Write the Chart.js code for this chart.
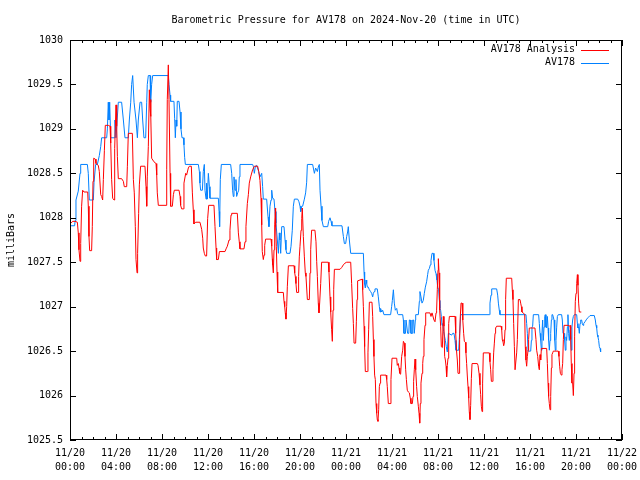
<!DOCTYPE html>
<html>
<head>
<meta charset="utf-8">
<script src="https://cdn.jsdelivr.net/npm/chart.js@4.4.1/dist/chart.umd.min.js"></script>
<style>
  html, body { margin: 0; padding: 0; background: #fff; }
  #wrap { width: 640px; height: 480px; }
</style>
</head>
<body>
<div id="wrap"><canvas id="myChart" width="640" height="480"></canvas></div>
<script>
// hours since 2024-11-20 00:00 UTC
const analysisHours = [
  0.09, 0.23, 0.43, 0.64, 0.72, 0.78, 0.87, 0.93, 1.01, 1.10, 1.22, 1.54, 1.59, 1.65, 1.71, 1.88, 1.94, 2.00, 2.06, 2.20,
  2.26, 2.46, 2.55, 2.67, 2.75, 2.84, 2.90, 2.99, 3.07, 3.33, 3.48, 3.54, 3.62, 3.71, 3.83, 3.86, 3.91, 4.00, 4.06, 4.12,
  4.20, 4.49, 4.64, 4.72, 4.93, 4.99, 5.07, 5.42, 5.51, 5.59, 5.68, 5.74, 5.83, 5.88, 5.97, 6.03, 6.14, 6.52, 6.61, 6.67,
  6.72, 6.81, 6.90, 6.96, 7.01, 7.04, 7.10, 7.30, 7.48, 7.54, 7.59, 7.68, 8.35, 8.41, 8.46, 8.52, 8.55, 8.61, 8.70, 8.75,
  8.90, 8.99, 9.07, 9.48, 9.57, 9.62, 9.71, 9.86, 9.91, 10.06, 10.14, 10.29, 10.38, 10.55, 10.64, 10.72, 10.78, 10.93, 11.30, 11.45,
  11.54, 11.59, 11.68, 11.77, 11.88, 11.97, 12.06, 12.52, 12.61, 12.70, 12.75, 12.90, 12.99, 13.48, 13.57, 13.68, 13.83, 13.91, 14.00, 14.06,
  14.55, 14.64, 14.72, 14.78, 15.13, 15.22, 15.30, 15.42, 15.51, 15.59, 15.71, 15.88, 16.03, 16.32, 16.41, 16.52, 16.61, 16.67, 16.72, 16.81,
  16.87, 16.93, 17.01, 17.48, 17.54, 17.59, 17.62, 17.68, 17.74, 17.80, 17.86, 17.88, 17.94, 18.00, 18.06, 18.55, 18.61, 18.67, 18.72, 18.78,
  18.84, 18.90, 18.99, 19.48, 19.54, 19.59, 19.65, 19.71, 19.83, 19.88, 19.94, 20.00, 20.09, 20.15, 20.20, 20.29, 20.38, 20.46, 20.52, 20.64,
  20.81, 20.87, 20.93, 21.01, 21.30, 21.39, 21.45, 21.51, 21.59, 21.65, 21.71, 21.80, 21.88, 22.46, 22.52, 22.61, 22.67, 22.75, 22.81, 22.87,
  22.93, 22.99, 23.48, 23.62, 23.77, 23.91, 24.06, 24.41, 24.49, 24.58, 24.64, 24.70, 24.84, 24.90, 24.96, 25.01, 25.42, 25.45, 25.51, 25.57,
  25.62, 25.68, 25.86, 25.91, 25.97, 26.03, 26.26, 26.32, 26.38, 26.43, 26.49, 26.55, 26.61, 26.67, 26.72, 26.78, 26.84, 26.90, 26.96, 27.01,
  27.48, 27.54, 27.59, 27.68, 27.83, 27.91, 28.00, 28.41, 28.46, 28.55, 28.61, 28.67, 28.75, 28.84, 28.93, 28.99, 29.07, 29.13, 29.19, 29.25,
  29.33, 29.42, 29.51, 29.59, 29.65, 29.77, 29.83, 29.88, 29.94, 30.00, 30.06, 30.14, 30.20, 30.29, 30.35, 30.41, 30.46, 30.52, 30.61, 30.67,
  30.72, 30.78, 30.87, 30.93, 31.30, 31.39, 31.48, 31.54, 31.65, 31.74, 31.83, 31.88, 31.94, 32.00, 32.03, 32.09, 32.12, 32.17, 32.23, 32.29,
  32.38, 32.46, 32.52, 32.58, 32.64, 32.70, 32.75, 32.81, 32.87, 32.93, 32.99, 33.48, 33.54, 33.62, 33.68, 33.74, 33.83, 33.88, 33.94, 34.00,
  34.09, 34.14, 34.17, 34.23, 34.29, 34.38, 34.43, 34.49, 34.55, 34.61, 34.67, 34.72, 34.78, 34.84, 34.90, 34.96, 35.42, 35.48, 35.57, 35.65,
  35.71, 35.77, 35.83, 35.88, 35.94, 36.46, 36.52, 36.58, 36.64, 36.72, 36.78, 36.84, 36.90, 36.96, 37.01, 37.10, 37.48, 37.54, 37.59, 37.65,
  37.71, 37.77, 37.83, 37.88, 37.94, 38.41, 38.46, 38.52, 38.58, 38.64, 38.70, 38.78, 38.84, 38.90, 38.99, 39.13, 39.19, 39.25, 39.30, 39.42,
  39.54, 39.59, 39.65, 39.71, 39.77, 39.83, 39.88, 39.94, 40.43, 40.52, 40.58, 40.67, 40.75, 40.81, 40.87, 40.93, 40.99, 41.45, 41.51, 41.57,
  41.62, 41.68, 41.74, 41.80, 41.86, 41.91, 41.97, 42.03, 42.46, 42.52, 42.58, 42.64, 42.73, 42.78, 42.84, 42.90, 42.96, 43.33, 43.42, 43.48,
  43.54, 43.59, 43.65, 43.71, 43.77, 43.83, 43.88, 43.94, 44.00, 44.06, 44.12, 44.17, 44.23, 44.29, 44.46
];
const analysisMb = [
  1027.94, 1027.96, 1027.96, 1027.95, 1027.83, 1027.64, 1027.51, 1027.71, 1028.13, 1028.31, 1028.29, 1028.29, 1028.13, 1027.79, 1027.63, 1027.63, 1027.90, 1028.41, 1028.67, 1028.66,
  1028.61, 1028.59, 1028.52, 1028.26, 1028.24, 1028.20, 1028.43, 1028.76, 1029.04, 1029.04, 1029.03, 1028.84, 1028.43, 1028.22, 1028.20, 1028.43, 1028.78, 1029.27, 1029.03, 1028.69,
  1028.44, 1028.44, 1028.41, 1028.35, 1028.35, 1028.58, 1028.95, 1028.95, 1028.43, 1028.28, 1027.90, 1027.53, 1027.38, 1027.60, 1028.05, 1028.37, 1028.58, 1028.58, 1028.35, 1028.13,
  1028.46, 1028.80, 1029.44, 1029.23, 1029.33, 1029.14, 1028.67, 1028.63, 1028.61, 1028.48, 1028.28, 1028.14, 1028.14, 1028.54, 1029.33, 1029.33, 1029.72, 1029.33, 1028.50, 1028.13,
  1028.13, 1028.26, 1028.31, 1028.31, 1028.24, 1028.14, 1028.10, 1028.10, 1028.39, 1028.50, 1028.48, 1028.56, 1028.58, 1028.58, 1028.28, 1028.09, 1027.93, 1027.95, 1027.95, 1027.87,
  1027.77, 1027.66, 1027.60, 1027.57, 1027.57, 1027.99, 1028.14, 1028.14, 1027.90, 1027.66, 1027.53, 1027.53, 1027.62, 1027.62, 1027.65, 1027.68, 1027.75, 1027.86, 1028.03, 1028.05,
  1028.05, 1027.83, 1027.73, 1027.65, 1027.65, 1027.73, 1027.90, 1028.16, 1028.26, 1028.39, 1028.46, 1028.54, 1028.58, 1028.58, 1028.52, 1028.42, 1028.22, 1027.92, 1027.62, 1027.53,
  1027.58, 1027.69, 1027.76, 1027.76, 1027.68, 1027.54, 1027.47, 1027.38, 1027.64, 1027.92, 1028.11, 1027.90, 1027.68, 1027.39, 1027.16, 1027.16, 1027.06, 1027.00, 1026.93, 1026.86,
  1027.00, 1027.23, 1027.46, 1027.46, 1027.38, 1027.34, 1027.26, 1027.16, 1027.16, 1027.34, 1027.56, 1027.68, 1027.86, 1027.99, 1028.11, 1027.79, 1027.56, 1027.38, 1027.34, 1027.08,
  1027.08, 1027.38, 1027.64, 1027.86, 1027.86, 1027.73, 1027.51, 1027.34, 1027.04, 1026.93, 1027.04, 1027.26, 1027.50, 1027.50, 1027.39, 1027.11, 1026.94, 1026.74, 1026.61, 1026.96,
  1027.19, 1027.42, 1027.42, 1027.44, 1027.47, 1027.49, 1027.50, 1027.50, 1027.26, 1026.98, 1026.81, 1026.59, 1026.59, 1026.83, 1027.08, 1027.29, 1027.31, 1027.19, 1027.00, 1026.78,
  1026.55, 1026.27, 1026.27, 1026.48, 1026.74, 1027.05, 1027.05, 1026.89, 1026.63, 1026.44, 1026.23, 1026.18, 1025.91, 1025.80, 1025.73, 1025.71, 1025.84, 1026.10, 1026.14, 1026.23,
  1026.23, 1026.18, 1026.10, 1025.91, 1025.91, 1026.18, 1026.42, 1026.42, 1026.34, 1026.36, 1026.31, 1026.25, 1026.24, 1026.44, 1026.51, 1026.61, 1026.59, 1026.44, 1026.29, 1026.18,
  1026.06, 1026.04, 1026.03, 1025.97, 1025.91, 1025.91, 1025.99, 1026.16, 1026.29, 1026.41, 1026.29, 1026.10, 1025.99, 1025.88, 1025.80, 1025.69, 1025.91, 1026.14, 1026.25, 1026.36,
  1026.44, 1026.63, 1026.79, 1026.93, 1026.93, 1026.89, 1026.93, 1026.93, 1026.85, 1026.83, 1026.93, 1026.96, 1027.19, 1027.41, 1027.54, 1027.38, 1027.23, 1026.96, 1026.78, 1026.55,
  1026.54, 1026.89, 1026.78, 1026.44, 1026.40, 1026.33, 1026.21, 1026.34, 1026.42, 1026.81, 1026.89, 1026.89, 1026.70, 1026.49, 1026.40, 1026.25, 1026.25, 1026.63, 1026.89, 1027.04,
  1027.04, 1026.94, 1026.85, 1026.70, 1026.61, 1026.60, 1026.48, 1026.36, 1026.22, 1026.10, 1025.97, 1025.82, 1025.73, 1025.89, 1026.19, 1026.36, 1026.36, 1026.34, 1026.25, 1026.12,
  1026.01, 1025.88, 1025.82, 1026.14, 1026.48, 1026.48, 1026.38, 1026.29, 1026.16, 1026.16, 1026.29, 1026.48, 1026.59, 1026.70, 1026.76, 1026.78, 1026.78, 1026.74, 1026.63, 1026.61,
  1026.56, 1026.59, 1026.74, 1027.08, 1027.32, 1027.32, 1027.19, 1027.08, 1026.81, 1026.55, 1026.29, 1026.29, 1026.48, 1026.63, 1027.08, 1027.08, 1027.04, 1027.00, 1026.94, 1026.93,
  1026.91, 1026.55, 1026.40, 1026.33, 1026.44, 1026.51, 1026.63, 1026.76, 1026.76, 1026.63, 1026.51, 1026.44, 1026.33, 1026.29, 1026.46, 1026.40, 1026.53, 1026.53, 1026.36, 1026.14,
  1025.99, 1025.91, 1025.84, 1025.99, 1026.31, 1026.46, 1026.48, 1026.50, 1026.50, 1026.44, 1026.33, 1026.25, 1026.23, 1026.29, 1026.36, 1026.63, 1026.79, 1026.79, 1026.78, 1026.79,
  1026.63, 1026.36, 1026.14, 1026.14, 1026.00, 1026.25, 1026.66, 1027.06, 1027.15, 1027.26, 1027.36, 1027.24, 1027.04, 1026.94, 1026.94
];

const stationHours = [
  0.05, 0.40, 0.45, 0.52, 0.72, 0.87, 0.93, 1.51, 1.59, 1.68, 2.03, 2.09, 2.23, 2.38, 2.55, 2.67, 2.75, 3.19, 3.25, 3.33,
  3.39, 3.45, 3.54, 3.83, 3.91, 4.00, 4.20, 4.49, 4.64, 4.78, 5.07, 5.16, 5.28, 5.36, 5.45, 5.57, 5.74, 5.86, 5.94, 6.09,
  6.23, 6.32, 6.43, 6.58, 6.67, 6.72, 6.81, 6.96, 7.01, 7.10, 7.19, 8.55, 8.61, 8.70, 8.75, 9.04, 9.10, 9.16, 9.22, 9.28,
  9.33, 9.48, 9.57, 9.65, 9.74, 9.86, 9.91, 9.97, 10.03, 11.16, 11.25, 11.30, 11.36, 11.51, 11.59, 11.68, 11.74, 11.83, 11.88, 11.94,
  12.03, 12.12, 12.17, 12.90, 12.96, 13.01, 13.07, 13.16, 13.97, 14.06, 14.14, 14.20, 14.26, 14.35, 14.43, 14.49, 14.58, 14.67, 14.72, 14.78,
  15.88, 15.94, 16.03, 16.12, 16.23, 16.41, 16.52, 16.67, 16.75, 16.81, 17.10, 17.22, 17.30, 17.39, 17.48, 17.54, 17.62, 17.74, 17.83, 17.91,
  18.03, 18.12, 18.20, 18.26, 18.32, 18.41, 18.61, 18.70, 18.78, 18.84, 19.13, 19.22, 19.33, 19.42, 19.51, 19.80, 19.91, 20.00, 20.06, 20.15,
  20.23, 20.38, 20.49, 20.58, 20.64, 21.10, 21.25, 21.36, 21.51, 21.59, 21.68, 21.74, 21.83, 21.91, 22.03, 22.41, 22.49, 22.61, 22.70, 22.78,
  23.65, 23.77, 23.86, 23.97, 24.06, 24.14, 24.20, 24.29, 24.41, 25.51, 25.57, 25.62, 25.68, 25.74, 25.80, 25.86, 25.94, 26.03, 26.14, 26.23,
  26.32, 26.38, 26.46, 26.52, 26.72, 26.81, 26.90, 26.96, 27.01, 27.10, 27.19, 27.30, 27.88, 27.97, 28.03, 28.12, 28.20, 28.29, 28.41, 28.49,
  28.55, 28.93, 28.99, 29.04, 29.17, 29.22, 29.30, 29.36, 29.46, 29.51, 29.59, 29.65, 29.75, 29.80, 29.88, 29.94, 29.98, 30.03, 30.06, 30.29,
  30.38, 30.43, 30.52, 30.61, 30.72, 30.81, 30.90, 31.01, 31.10, 31.16, 31.25, 31.33, 31.39, 31.48, 31.59, 31.65, 31.74, 31.83, 31.91, 31.97,
  32.06, 32.12, 32.17, 32.23, 32.29, 32.35, 32.41, 32.49, 32.58, 32.64, 32.72, 32.81, 32.90, 33.19, 33.28, 33.39, 33.48, 33.56, 33.80, 33.88,
  33.97, 36.46, 36.52, 36.61, 36.67, 37.10, 37.19, 37.25, 37.33, 37.39, 39.65, 39.71, 39.77, 39.83, 40.06, 40.12, 40.17, 40.23, 40.29, 40.75,
  40.81, 40.87, 40.93, 40.99, 41.04, 41.10, 41.16, 41.22, 41.28, 41.33, 41.39, 41.45, 41.51, 41.57, 41.62, 41.68, 41.74, 41.80, 41.86, 41.91,
  41.97, 42.09, 42.15, 42.20, 42.26, 42.32, 42.38, 42.46, 42.75, 42.81, 42.87, 42.96, 43.01, 43.07, 43.13, 43.19, 43.25, 43.30, 43.36, 43.42,
  43.48, 43.54, 43.59, 43.65, 43.71, 43.77, 43.86, 44.06, 44.12, 44.17, 44.23, 44.29, 44.35, 44.41, 44.49, 44.55, 44.61, 44.67, 44.78, 44.93,
  45.07, 45.22, 45.59, 45.68, 45.74, 45.80, 45.86, 45.91, 45.97, 46.03, 46.09, 46.14
];
const stationMb = [
  1027.91, 1027.91, 1027.97, 1028.20, 1028.30, 1028.50, 1028.60, 1028.60, 1028.50, 1028.20, 1028.20, 1028.40, 1028.60, 1028.60, 1028.70, 1028.80, 1028.90, 1028.90, 1029.00, 1029.30,
  1029.10, 1029.30, 1028.90, 1028.90, 1029.10, 1028.90, 1029.30, 1029.30, 1029.10, 1028.90, 1028.90, 1029.10, 1029.30, 1029.50, 1029.60, 1029.30, 1029.10, 1028.90, 1029.10, 1029.30,
  1029.30, 1029.10, 1028.90, 1028.90, 1029.30, 1029.50, 1029.60, 1029.60, 1029.30, 1029.50, 1029.60, 1029.60, 1029.50, 1029.38, 1029.31, 1029.31, 1029.12, 1028.90, 1029.10, 1029.03,
  1029.31, 1029.31, 1029.19, 1029.00, 1028.90, 1028.90, 1028.82, 1028.68, 1028.60, 1028.60, 1028.52, 1028.39, 1028.31, 1028.31, 1028.52, 1028.60, 1028.31, 1028.21, 1028.39, 1028.21,
  1028.50, 1028.35, 1028.22, 1028.22, 1028.07, 1027.90, 1028.43, 1028.60, 1028.60, 1028.50, 1028.31, 1028.24, 1028.46, 1028.31, 1028.43, 1028.24, 1028.28, 1028.31, 1028.46, 1028.60,
  1028.60, 1028.58, 1028.50, 1028.58, 1028.59, 1028.52, 1028.46, 1028.50, 1028.35, 1028.21, 1028.21, 1028.01, 1027.90, 1028.13, 1028.20, 1028.31, 1028.22, 1028.21, 1028.07, 1027.94,
  1027.75, 1027.60, 1027.83, 1027.75, 1027.60, 1027.90, 1027.90, 1027.75, 1027.64, 1027.60, 1027.60, 1027.68, 1027.86, 1028.13, 1028.21, 1028.21, 1028.18, 1028.13, 1028.07, 1028.13,
  1028.13, 1028.21, 1028.28, 1028.40, 1028.60, 1028.60, 1028.50, 1028.56, 1028.52, 1028.57, 1028.60, 1028.31, 1028.13, 1027.97, 1027.90, 1027.90, 1027.96, 1028.00, 1027.96, 1027.91,
  1027.91, 1027.79, 1027.71, 1027.71, 1027.79, 1027.84, 1027.90, 1027.75, 1027.60, 1027.60, 1027.39, 1027.25, 1027.21, 1027.30, 1027.26, 1027.22, 1027.22, 1027.19, 1027.17, 1027.15,
  1027.11, 1027.15, 1027.17, 1027.20, 1027.20, 1027.11, 1027.00, 1026.94, 1026.98, 1026.94, 1026.96, 1026.91, 1026.91, 1027.00, 1027.07, 1027.19, 1027.04, 1026.96, 1026.98, 1026.92,
  1026.91, 1026.91, 1026.85, 1026.70, 1026.70, 1026.85, 1026.85, 1026.70, 1026.70, 1026.85, 1026.85, 1026.70, 1026.70, 1026.85, 1026.85, 1026.70, 1026.70, 1026.85, 1026.91, 1026.91,
  1027.06, 1027.17, 1027.11, 1027.04, 1027.07, 1027.15, 1027.22, 1027.28, 1027.36, 1027.41, 1027.43, 1027.47, 1027.52, 1027.60, 1027.60, 1027.52, 1027.41, 1027.37, 1027.30, 1027.22,
  1027.19, 1027.07, 1026.98, 1026.96, 1026.89, 1026.79, 1026.81, 1026.72, 1026.66, 1026.62, 1026.55, 1026.49, 1026.70, 1026.68, 1026.70, 1026.70, 1026.62, 1026.51, 1026.51, 1026.70,
  1026.91, 1026.91, 1027.04, 1027.13, 1027.20, 1027.20, 1027.13, 1027.04, 1026.96, 1026.91, 1026.91, 1026.81, 1026.70, 1026.50, 1026.50, 1026.62, 1026.77, 1026.78, 1026.91, 1026.91,
  1026.81, 1026.70, 1026.62, 1026.51, 1026.70, 1026.85, 1026.62, 1026.77, 1026.89, 1026.91, 1026.77, 1026.76, 1026.89, 1026.76, 1026.62, 1026.51, 1026.62, 1026.70, 1026.85, 1026.91,
  1026.91, 1026.85, 1026.62, 1026.51, 1026.62, 1026.77, 1026.89, 1026.91, 1026.91, 1026.85, 1026.70, 1026.70, 1026.62, 1026.51, 1026.66, 1026.62, 1026.77, 1026.91, 1026.70, 1026.62,
  1026.74, 1026.77, 1026.51, 1026.77, 1026.85, 1026.89, 1026.91, 1026.91, 1026.81, 1026.76, 1026.77, 1026.70, 1026.81, 1026.85, 1026.85, 1026.81, 1026.79, 1026.81, 1026.83, 1026.86,
  1026.88, 1026.90, 1026.90, 1026.85, 1026.79, 1026.76, 1026.68, 1026.66, 1026.62, 1026.55, 1026.53, 1026.49
];

const xTickLabels = [
  ["11/20", "00:00"], ["11/20", "04:00"], ["11/20", "08:00"], ["11/20", "12:00"], ["11/20", "16:00"],
  ["11/20", "20:00"], ["11/21", "00:00"], ["11/21", "04:00"], ["11/21", "08:00"], ["11/21", "12:00"],
  ["11/21", "16:00"], ["11/21", "20:00"], ["11/22", "00:00"]
];

const FONT = "'DejaVu Sans Mono', 'Liberation Mono', monospace";

const toPoints = (xs, ys) => xs.map((x, i) => ({ x: x, y: ys[i] }));

// gnuplot style frame: border plus inward ticks on all four sides
const frame = {
  id: "frame",
  afterDatasetsDraw(chart) {
    const { ctx, chartArea: a, scales } = chart;
    ctx.save();
    ctx.strokeStyle = "#000";
    ctx.lineWidth = 1;
    ctx.beginPath();
    scales.x.ticks.forEach((t) => {
      const px = Math.round(scales.x.getPixelForValue(t.value)) + 0.5;
      ctx.moveTo(px, a.bottom); ctx.lineTo(px, a.bottom - 6);
      ctx.moveTo(px, a.top); ctx.lineTo(px, a.top + 6);
    });
    for (let h = 1; h < 48; h++) {
      if (h % 4 === 0) continue;
      const px = Math.round(scales.x.getPixelForValue(h)) + 0.5;
      ctx.moveTo(px, a.bottom); ctx.lineTo(px, a.bottom - 3);
      ctx.moveTo(px, a.top); ctx.lineTo(px, a.top + 3);
    }
    scales.y.ticks.forEach((t) => {
      const py = Math.round(scales.y.getPixelForValue(t.value)) + 0.5;
      ctx.moveTo(a.left, py); ctx.lineTo(a.left + 6, py);
      ctx.moveTo(a.right, py); ctx.lineTo(a.right - 6, py);
    });
    ctx.stroke();
    ctx.strokeRect(a.left + 0.5, a.top + 0.5, a.right - a.left - 1, a.bottom - a.top - 1);

    // key, top right
    ctx.font = "10px " + FONT;
    ctx.textAlign = "right";
    ctx.textBaseline = "middle";
    chart.data.datasets.forEach((ds, i) => {
      const y = a.top + 9.5 + i * 13;
      ctx.fillStyle = "#000";
      ctx.fillText(ds.label, a.right - 47, y);
      ctx.strokeStyle = ds.borderColor;
      ctx.beginPath();
      ctx.moveTo(a.right - 41, Math.round(y) + 0.5);
      ctx.lineTo(a.right - 13, Math.round(y) + 0.5);
      ctx.stroke();
    });
    ctx.restore();
  },
};

document.addEventListener("DOMContentLoaded", () => {
  const ctx = document.getElementById("myChart").getContext("2d");
  new Chart(ctx, {
    type: "line",
    data: {
      datasets: [
        {
          label: "AV178 Analysis",
          data: toPoints(analysisHours, analysisMb),
          borderColor: "#ff0000",
          borderWidth: 1,
        },
        {
          label: "AV178",
          data: toPoints(stationHours, stationMb),
          borderColor: "#0080ff",
          borderWidth: 1,
        },
      ],
    },
    options: {
      responsive: false,
      animation: false,
      devicePixelRatio: 1,
      radius: 0,
      fill: false,
      tension: 0,
      layout: { padding: { right: 18, left: 0, top: 0, bottom: 0 } },
      plugins: {
        legend: { display: false },
        tooltip: { enabled: false },
        title: {
          display: true,
          fullSize: false,
          text: "Barometric Pressure for AV178 on 2024-Nov-20 (time in UTC)",
          color: "#000",
          font: { family: FONT, size: 10, weight: "normal", lineHeight: 1.2 },
          padding: { top: 14, bottom: 14 },
        },
      },
      scales: {
        x: {
          type: "linear",
          min: 0,
          max: 48,
          afterFit: (s) => {
            s.height = 40;
            s.paddingLeft = 0;
            s.paddingRight = 0;
          },
          afterBuildTicks: (s) => {
            s.ticks = xTickLabels.map((_, i) => ({ value: i * 4 }));
          },
          grid: { display: false, drawTicks: false },
          border: { display: false },
          ticks: {
            color: "#000",
            padding: 6,
            maxRotation: 0,
            autoSkip: false,
            font: { family: FONT, size: 10, lineHeight: 1.4 },
            callback: (v) => xTickLabels[Math.round(v / 4)],
          },
        },
        y: {
          min: 1025.5,
          max: 1030,
          afterFit: (s) => {
            s.width = 70;
            s.paddingTop = 0;
            s.paddingBottom = 0;
          },
          grid: { display: false, drawTicks: false },
          border: { display: false },
          title: {
            display: true,
            text: "milliBars",
            color: "#000",
            font: { family: FONT, size: 10, lineHeight: 1.2 },
            padding: { top: 5, bottom: 0 },
          },
          ticks: {
            color: "#000",
            padding: 7,
            stepSize: 0.5,
            font: { family: FONT, size: 10 },
            callback: (v) => String(v),
          },
        },
      },
    },
    plugins: [frame],
  });
});
</script>
</body>
</html>
